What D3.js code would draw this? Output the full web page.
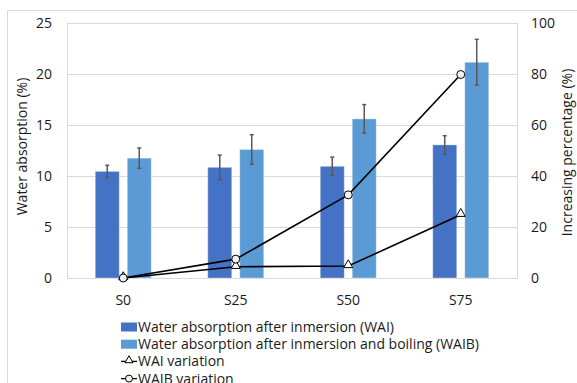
<!DOCTYPE html>
<html>
<head>
<meta charset="utf-8">
<script src="https://cdn.jsdelivr.net/npm/d3@7"></script>
<style>
  body { margin: 0; background: #fff; }
  text { font-family: "Open Sans", "Noto Sans", sans-serif; fill: #1a1a1a; }
</style>
</head>
<body>
<div id="chart"></div>
<script>
// data
const samples = ['S0', 'S25', 'S50', 'S75'];
const wai = [10.45, 10.85, 10.95, 13.05];
const waiErr = [0.6, 1.2, 0.9, 0.9];
const waib = [11.75, 12.6, 15.6, 21.15];
const waibErr = [1.0, 1.45, 1.4, 2.25];
const waiVar = [0, 4.4, 4.7, 24.8];
const waibVar = [0, 7.4, 32.6, 79.8];
const leftTicks = [0, 5, 10, 15, 20, 25];
const rightTicks = [0, 20, 40, 60, 80, 100];

const svgWidth = 577;
const svgHeight = 383;
const margin = {top: 23, right: 60, bottom: 105, left: 67};
const width = svgWidth - margin.left - margin.right;
const height = svgHeight - margin.top - margin.bottom;

const svg = d3.select('#chart').append('svg')
  .attr('width', svgWidth)
  .attr('height', svgHeight);

// outer chart frame (cropped at right/bottom)
svg.append('path')
  .attr('d', `M7.5,${svgHeight} V10.5 H${svgWidth}`)
  .attr('fill', 'none')
  .attr('stroke', '#d9d9d9');

const g = svg.append('g')
  .attr('transform', `translate(${margin.left},${margin.top})`);

const x = d3.scaleBand().domain(samples).range([0, width]);
const y = d3.scaleLinear().domain([0, 25]).range([height, 0]);
const y2 = d3.scaleLinear().domain([0, 100]).range([height, 0]);

// gridlines
g.selectAll('.grid').data(leftTicks).enter().append('line')
  .attr('x1', 0).attr('x2', width)
  .attr('y1', d => y(d) + 0.5).attr('y2', d => y(d) + 0.5)
  .attr('stroke', '#d9d9d9');

// plot area border
g.append('rect')
  .attr('x', 0.5).attr('y', 0.5)
  .attr('width', width).attr('height', height)
  .attr('fill', 'none').attr('stroke', '#d9d9d9');

// axes
const leftAxis = d3.axisLeft(y).tickValues(leftTicks).tickSize(0).tickPadding(15);
const rightAxis = d3.axisRight(y2).tickValues(rightTicks).tickSize(0).tickPadding(14);
const bottomAxis = d3.axisBottom(x).tickSize(0).tickPadding(17);

g.append('g').call(leftAxis)
  .call(a => a.select('.domain').remove())
  .selectAll('text').style('font-size', '14px').attr('fill', '#1a1a1a');
g.append('g').attr('transform', `translate(${width},0)`).call(rightAxis)
  .call(a => a.select('.domain').remove())
  .selectAll('text').style('font-size', '14px').attr('fill', '#1a1a1a');
g.append('g').attr('transform', `translate(0,${height})`).call(bottomAxis)
  .call(a => a.select('.domain').remove())
  .selectAll('text').style('font-size', '14px').attr('fill', '#1a1a1a');

// bars
const barW = 24, gap = 8;
const series = [
  {vals: wai, err: waiErr, color: '#4472c4', off: -gap / 2 - barW},
  {vals: waib, err: waibErr, color: '#5b9bd5', off: gap / 2}
];
series.forEach(s => {
  const cx = i => x(samples[i]) + x.bandwidth() / 2;
  g.selectAll(null).data(s.vals).enter().append('rect')
    .attr('x', (d, i) => cx(i) + s.off)
    .attr('y', d => y(d))
    .attr('width', barW)
    .attr('height', d => height - y(d))
    .attr('fill', s.color)
    .attr('stroke', '#ffffff').attr('stroke-opacity', 0.35).attr('stroke-width', 1);
  // error bars
  const eg = g.selectAll(null).data(s.vals).enter().append('g')
    .attr('stroke', '#595959').attr('stroke-width', 1.5);
  eg.append('line')
    .attr('x1', (d, i) => cx(i) + s.off + barW / 2)
    .attr('x2', (d, i) => cx(i) + s.off + barW / 2)
    .attr('y1', (d, i) => y(d + s.err[i]))
    .attr('y2', (d, i) => y(d - s.err[i]));
  [1, -1].forEach(sign => {
    eg.append('line')
      .attr('x1', (d, i) => cx(i) + s.off + barW / 2 - 2)
      .attr('x2', (d, i) => cx(i) + s.off + barW / 2 + 2)
      .attr('y1', (d, i) => y(d + sign * s.err[i]))
      .attr('y2', (d, i) => y(d + sign * s.err[i]));
  });
});

// variation lines
const line = d3.line()
  .x((d, i) => x(samples[i]) + x.bandwidth() / 2)
  .y(d => y2(d));

const triangle = d3.symbol().type(d3.symbolTriangle).size(36);

g.append('path').datum(waiVar).attr('d', line)
  .attr('fill', 'none').attr('stroke', '#000').attr('stroke-width', 1.6);
g.append('path').datum(waibVar).attr('d', line)
  .attr('fill', 'none').attr('stroke', '#000').attr('stroke-width', 1.6);

g.selectAll(null).data(waiVar).enter().append('path')
  .attr('d', triangle)
  .attr('transform', (d, i) => `translate(${x(samples[i]) + x.bandwidth() / 2},${y2(d) - 1})`)
  .attr('fill', '#fff').attr('stroke', '#000').attr('stroke-width', 1);
g.selectAll(null).data(waibVar).enter().append('circle')
  .attr('cx', (d, i) => x(samples[i]) + x.bandwidth() / 2)
  .attr('cy', d => y2(d))
  .attr('r', 4)
  .attr('fill', '#f2f2f2').attr('stroke', '#000').attr('stroke-width', 1);

// axis titles
svg.append('text')
  .attr('transform', `translate(22,${margin.top + height / 2 - 4}) rotate(-90)`)
  .attr('text-anchor', 'middle')
  .attr('dy', '0.35em')
  .style('font-size', '14px')
  .text('Water absorption (%)');
svg.append('text')
  .attr('transform', `translate(567,${margin.top + height / 2 + 2}) rotate(-90)`)
  .attr('text-anchor', 'middle')
  .attr('dy', '0.35em')
  .style('font-size', '14px')
  .text('Increasing percentage (%)');

// legend
const legendItems = [
  {label: 'Water absorption after inmersion (WAI)', type: 'bar', color: '#4472c4'},
  {label: 'Water absorption after inmersion and boiling (WAIB)', type: 'bar', color: '#5b9bd5'},
  {label: 'WAI variation', type: 'tri'},
  {label: 'WAIB variation', type: 'circ'}
];
const legend = svg.append('g').attr('transform', 'translate(121,327)');
const rows = legend.selectAll('g').data(legendItems).enter().append('g')
  .attr('transform', (d, i) => `translate(0,${i * 17.2})`);
rows.filter(d => d.type === 'bar').append('rect')
  .attr('x', 0).attr('y', -4.5).attr('width', 16).attr('height', 9)
  .attr('fill', d => d.color);
rows.filter(d => d.type !== 'bar').append('line')
  .attr('x1', 0).attr('x2', 16).attr('y1', 0).attr('y2', 0)
  .attr('stroke', '#000').attr('stroke-width', 1.3);
rows.filter(d => d.type === 'tri').append('path')
  .attr('d', d3.symbol().type(d3.symbolTriangle).size(28))
  .attr('transform', 'translate(8,-1)')
  .attr('fill', '#fff').attr('stroke', '#000');
rows.filter(d => d.type === 'circ').append('circle')
  .attr('cx', 8).attr('cy', 0).attr('r', 3.5)
  .attr('fill', '#f2f2f2').attr('stroke', '#000');
rows.append('text')
  .attr('x', 17).attr('dy', '0.35em')
  .style('font-size', '14px')
  .text(d => d.label);
</script>
</body>
</html>
